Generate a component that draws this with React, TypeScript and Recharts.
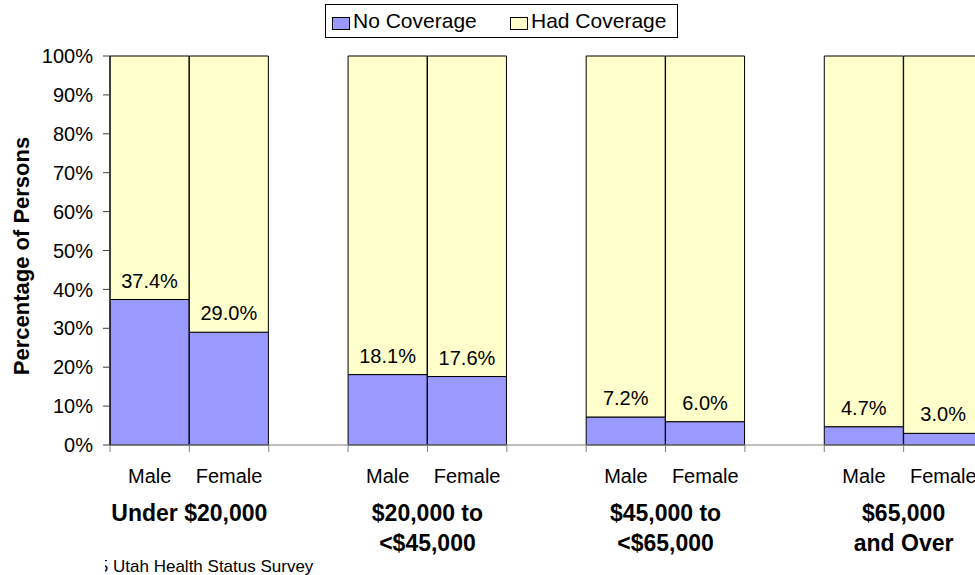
import React from "react";
import { BarChart, Bar, XAxis, YAxis, LabelList } from "recharts";

const incomeGroups = [
  ["Under $20,000"],
  ["$20,000 to", "<$45,000"],
  ["$45,000 to", "<$65,000"],
  ["$65,000", "and Over"],
];
const sexes = ["Male", "Female"];
const noCoverage = [37.4, 29.0, 18.1, 17.6, 7.2, 6.0, 4.7, 3.0];
const hadCoverage = [62.6, 71.0, 81.9, 82.4, 92.8, 94.0, 95.3, 97.0];
const yTicks = [0, 10, 20, 30, 40, 50, 60, 70, 80, 90, 100];

const BLUE = "#9999FF";
const YELLOW = "#FFFFCC";
const FONT = "'Liberation Sans', Arial, sans-serif";

const W = 990;
const H = 575;
const M = { top: 56, right: 7, bottom: 0, left: 20 };
const Y_W = 90;

type Row = {
  key: string;
  sex: string;
  group: number;
  first: boolean;
  noCov: number | null;
  hadCov: number | null;
};

// male, female, then an empty slot between income groups
const rows: Row[] = [];
incomeGroups.forEach((_, g) => {
  sexes.forEach((s, i) => {
    const k = g * 2 + i;
    rows.push({ key: `${g}-${s}`, sex: s, group: g, first: i === 0, noCov: noCoverage[k], hadCov: hadCoverage[k] });
  });
  if (g < incomeGroups.length - 1) {
    rows.push({ key: `${g}-gap`, sex: "", group: g, first: false, noCov: null, hadCov: null });
  }
});

const band = (W - M.left - Y_W - M.right) / rows.length;

function CatTick(props: any) {
  const { x, y, payload } = props;
  const idx = payload?.index ?? props.index;
  const r = rows[idx];
  const left = x - band / 2;
  const last = idx === rows.length - 1;
  return (
    <g>
      <line x1={left} x2={left} y1={y} y2={y + 7} stroke="#808080" />
      {last && <line x1={left + band} x2={left + band} y1={y} y2={y + 7} stroke="#808080" />}
      {r.sex && (
        <text x={x} y={y + 38} textAnchor="middle" fontSize={20} fontFamily={FONT} fill="#000">
          {r.sex}
        </text>
      )}
      {r.first &&
        incomeGroups[r.group].map((line, i) => (
          <text
            key={i}
            x={x + band / 2}
            y={y + 76 + i * 30}
            textAnchor="middle"
            fontSize={23}
            fontWeight="bold"
            fontFamily={FONT}
            fill="#000"
          >
            {line}
          </text>
        ))}
    </g>
  );
}

const fmt = (v: any) => {
  if (v == null) return "";
  const n = Array.isArray(v) ? v[1] - v[0] : Number(v);
  return isNaN(n) ? "" : `${n.toFixed(1)}%`;
};

export default function App() {
  return (
    <div style={{ position: "fixed", left: 0, top: 0, width: 975, height: 575, overflow: "hidden", background: "#fff" }}>
      <BarChart width={W} height={H} data={rows} margin={M} barCategoryGap={0} barGap={0}>
        <XAxis
          dataKey="key"
          interval={0}
          height={130}
          tickLine={false}
          tickSize={0}
          tickMargin={0}
          axisLine={{ stroke: "#808080" }}
          tick={<CatTick />}
        />
        <YAxis
          width={Y_W}
          domain={[0, 100]}
          ticks={yTicks}
          interval={0}
          tickFormatter={(v) => `${v}%`}
          tickSize={7}
          tickMargin={10}
          axisLine={{ stroke: "#000" }}
          tickLine={{ stroke: "#404040" }}
          tick={{ fontSize: 20, fill: "#000", fontFamily: FONT }}
        />
        <Bar dataKey="noCov" stackId="a" fill={BLUE} stroke="#000" strokeWidth={1} isAnimationActive={false}>
          <LabelList
            dataKey="noCov"
            position="top"
            offset={12}
            formatter={fmt}
            style={{ fontSize: 20, fontFamily: FONT, fill: "#000" }}
          />
        </Bar>
        <Bar dataKey="hadCov" stackId="a" fill={YELLOW} stroke="#000" strokeWidth={1} isAnimationActive={false} />
      </BarChart>
      <svg width={975} height={575} style={{ position: "absolute", left: 0, top: 0, pointerEvents: "none" }}>
        <defs>
          <clipPath id="srcClip">
            <rect x={105} y={540} width={400} height={35} />
          </clipPath>
        </defs>
        <text
          transform="translate(29,256) rotate(-90)"
          textAnchor="middle"
          fontSize={22}
          fontWeight="bold"
          fontFamily={FONT}
          fill="#000"
        >
          Percentage of Persons
        </text>
        <rect x={325.5} y={4.5} width={352} height={33} fill="#fff" stroke="#000" />
        <rect x={332.5} y={17.5} width={17} height={12} fill={BLUE} stroke="#000" />
        <text x={353} y={28} fontSize={21} fontFamily={FONT} fill="#000">No Coverage</text>
        <rect x={510.5} y={17.5} width={17} height={12} fill={YELLOW} stroke="#000" />
        <text x={531} y={28} fontSize={21} fontFamily={FONT} fill="#000">Had Coverage</text>
        <text x={70.5} y={572} fontSize={17} fontFamily={FONT} fill="#000" clipPath="url(#srcClip)">
          2005 Utah Health Status Survey
        </text>
      </svg>
    </div>
  );
}
